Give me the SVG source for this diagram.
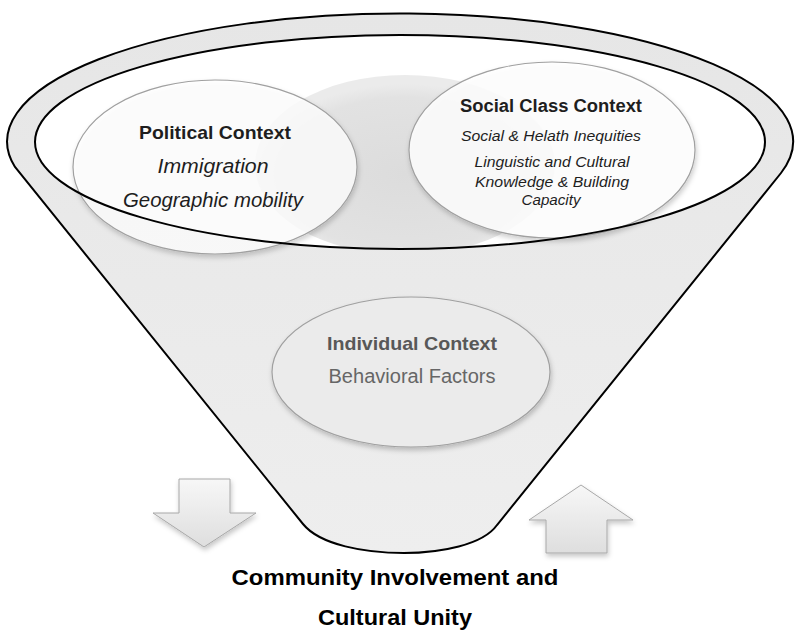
<svg xmlns="http://www.w3.org/2000/svg" width="800" height="632" viewBox="0 0 800 632">
<defs>
<style>
.t{font-family:"Liberation Sans",Arial,sans-serif;text-anchor:middle;fill:#1e1e1e}
.b{font-weight:bold}
.i{font-style:italic}
.node{stroke:#a0a0a0;stroke-width:1.2}
.arrow{fill:url(#ag);stroke:#a8a8a8;stroke-width:1}
</style>
<filter id="sh" x="-20%" y="-20%" width="140%" height="150%">
<feDropShadow dx="1" dy="3" stdDeviation="2.5" flood-color="#000" flood-opacity="0.22"/>
</filter>
<radialGradient id="blob" cx="0.5" cy="0.55" r="0.5">
<stop offset="0" stop-color="#dcdcdc"/>
<stop offset="0.85" stop-color="#e2e2e2"/>
<stop offset="1" stop-color="#ebebeb"/>
</radialGradient>
<linearGradient id="ag" x1="0" y1="0" x2="0" y2="1">
<stop offset="0" stop-color="#f7f7f7"/>
<stop offset="1" stop-color="#dedede"/>
</linearGradient>
<linearGradient id="fg" x1="0" y1="0" x2="0" y2="1">
<stop offset="0" stop-color="#e6e6e6"/>
<stop offset="1" stop-color="#eeeeee"/>
</linearGradient>
<clipPath id="innerClip"><ellipse cx="400" cy="142" rx="365" ry="107"/></clipPath>
</defs>

<g id="funnel">
<path d="M15,167 A393,128 0 1 1 781,173 L497,525 C483,545 440,553 404,553 C365,553 320,545 303,524 Z" fill="url(#fg)" stroke="#000" stroke-width="2"/>
<ellipse cx="400" cy="142" rx="365" ry="107" fill="#fff"/>
<ellipse cx="405" cy="165" rx="150" ry="90" fill="url(#blob)" clip-path="url(#innerClip)"/>
</g>

<g id="political">
<ellipse class="node" cx="215" cy="167" rx="142" ry="87" fill="#fff" fill-opacity="0.8" filter="url(#sh)"/>
<text class="t b" x="215" y="139" font-size="19" textLength="152" lengthAdjust="spacingAndGlyphs">Political Context</text>
<text class="t i" x="213" y="173" font-size="20" textLength="111" lengthAdjust="spacingAndGlyphs">Immigration</text>
<text class="t i" x="213" y="207" font-size="20" textLength="180" lengthAdjust="spacingAndGlyphs">Geographic mobility</text>
</g>

<g id="social">
<ellipse class="node" cx="552" cy="150" rx="143" ry="88" fill="#fff" fill-opacity="0.85" filter="url(#sh)"/>
<text class="t b" x="551" y="112" font-size="17.5" textLength="182" lengthAdjust="spacingAndGlyphs">Social Class Context</text>
<text class="t i" x="551" y="141" font-size="15" textLength="180" lengthAdjust="spacingAndGlyphs">Social &amp; Helath Inequities</text>
<text class="t i" x="552" y="167" font-size="15" textLength="155" lengthAdjust="spacingAndGlyphs">Linguistic and Cultural</text>
<text class="t i" x="552" y="187" font-size="15" textLength="154" lengthAdjust="spacingAndGlyphs">Knowledge &amp; Building</text>
<text class="t i" x="551" y="205" font-size="15" textLength="59" lengthAdjust="spacingAndGlyphs">Capacity</text>
</g>

<g id="outline">
<ellipse cx="400" cy="142" rx="365" ry="107" fill="none" stroke="#000" stroke-width="2"/>
</g>

<g id="individual">
<ellipse class="node" cx="411" cy="372" rx="139" ry="75" fill="#ebebeb" filter="url(#sh)"/>
<text class="t b" x="412" y="350" font-size="18.5" fill="#555" style="fill:#585858" textLength="170" lengthAdjust="spacingAndGlyphs">Individual Context</text>
<text class="t" x="412" y="383" font-size="19.5" style="fill:#666" textLength="167" lengthAdjust="spacingAndGlyphs">Behavioral Factors</text>
</g>

<g id="connectors">
<path id="down-arrow" class="arrow" filter="url(#sh)" d="M179,479 L230,479 L230,513 L256,513 L204,547 L153,513 L179,513 Z"/>
<path id="up-arrow" class="arrow" filter="url(#sh)" d="M581,485 L633,520 L607,520 L607,553 L546,553 L546,520 L529,520 Z"/>
</g>

<g id="caption">
<text class="t b" x="395" y="585" font-size="22" style="fill:#000" textLength="327" lengthAdjust="spacingAndGlyphs">Community Involvement and</text>
<text class="t b" x="395" y="625" font-size="22" style="fill:#000" textLength="154" lengthAdjust="spacingAndGlyphs">Cultural Unity</text>
</g>
</svg>
